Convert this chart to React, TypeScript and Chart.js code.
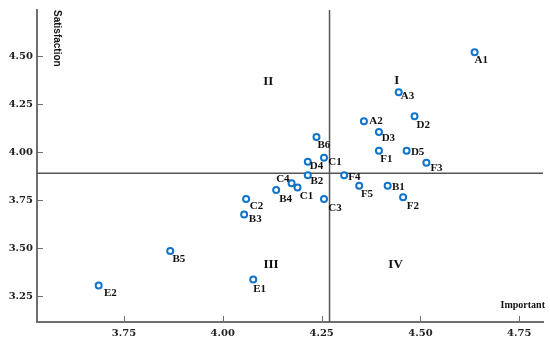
import React, { useEffect, useRef } from "react";
import { Chart, registerables } from "chart.js";

Chart.register(...registerables);

const pointNames = ["A1", "A3", "A2", "D2", "D3", "F1", "D5", "F3", "F4", "F5", "B1", "F2", "B6", "C1", "D4", "B2", "C4", "C1", "B4", "C2", "C3", "B3", "B5", "E2", "E1"];
const importance = [4.637, 4.445, 4.357, 4.485, 4.395, 4.395, 4.465, 4.515, 4.307, 4.345, 4.417, 4.456, 4.237, 4.256, 4.215, 4.215, 4.174, 4.189, 4.135, 4.059, 4.256, 4.054, 3.867, 3.686, 4.077];
const satisfaction = [4.52, 4.311, 4.161, 4.187, 4.105, 4.007, 4.007, 3.945, 3.879, 3.824, 3.824, 3.765, 4.078, 3.97, 3.95, 3.879, 3.838, 3.815, 3.803, 3.755, 3.755, 3.675, 3.485, 3.305, 3.336];

const xTicks = [3.75, 4.0, 4.25, 4.5, 4.75];
const yTicks = [3.25, 3.5, 3.75, 4.0, 4.25, 4.5];
const xRange = [3.53, 4.81];
const yRange = [3.115, 4.74];
const meanImportance = 4.27;
const meanSatisfaction = 3.89;

const quadrantNames = ["I", "II", "III", "IV"];
const quadrantX = [4.44, 4.115, 4.122, 4.437];
const quadrantY = [4.373, 4.368, 3.414, 3.414];

const xTitle = "Important";
const yTitle = "Satisfaction";

// label placement (pixel offsets of the label from its point), styling only
const labelDx = [0, 2, 5.3, 2, 2.7, 1.3, 4.3, 4, 4, 1.7, 4.3, 3.7, 1, 4.3, 2, 2.7, -2, 2.3, 3, 3.7, 4.3, 4.7, 2.3, 5.3, 0];
const labelDy = [7.5, 4.2, 0.3, 8.5, 6.2, 8.8, 1.8, 5.2, 1.7, 8.7, 1, 8.5, 8.3, 4.3, 4.5, 5.8, -3.7, 8.5, 8.8, 6.8, 8.7, 5, 8.3, 7.7, 9.7];

const POINT_COLOR = "#1273cc";
const AXIS_COLOR = "#6f6f6f";
const TICK_FONT = { family: "'DejaVu Serif'", size: 10, weight: "bold" as const };

const decorPlugin = {
  id: "decor",
  afterDatasetsDraw(chart: any) {
    const ctx = chart.ctx;
    const xs = chart.scales.x;
    const ys = chart.scales.y;
    const area = chart.chartArea;
    ctx.save();
    // inward tick marks
    ctx.strokeStyle = AXIS_COLOR;
    ctx.lineWidth = 1;
    xTicks.forEach((v) => {
      const px = Math.round(xs.getPixelForValue(v)) + 0.5;
      ctx.beginPath();
      ctx.moveTo(px, area.bottom);
      ctx.lineTo(px, area.bottom - 6);
      ctx.stroke();
    });
    yTicks.forEach((v) => {
      const py = Math.round(ys.getPixelForValue(v)) + 0.5;
      ctx.beginPath();
      ctx.moveTo(area.left, py);
      ctx.lineTo(area.left + 6, py);
      ctx.stroke();
    });
    // point labels
    const meta = chart.getDatasetMeta(0);
    ctx.fillStyle = "#111";
    ctx.font = "bold 11px 'Liberation Serif'";
    ctx.textBaseline = "middle";
    meta.data.forEach((el: any, i: number) => {
      const dx = labelDx[i];
      ctx.textAlign = dx < 0 ? "right" : "left";
      ctx.fillText(pointNames[i], el.x + dx, el.y + labelDy[i]);
    });
    // quadrant labels
    ctx.font = "bold 13px 'Liberation Serif'";
    ctx.textAlign = "center";
    ctx.textBaseline = "middle";
    quadrantNames.forEach((q, i) => {
      ctx.fillText(q, xs.getPixelForValue(quadrantX[i]), ys.getPixelForValue(quadrantY[i]));
    });
    // axis titles
    ctx.font = "bold 10px 'Liberation Serif'";
    ctx.textAlign = "right";
    ctx.textBaseline = "alphabetic";
    ctx.fillText(xTitle, area.right + 2, area.bottom - 14);
    ctx.save();
    ctx.translate(area.left + 20, area.top);
    ctx.rotate(Math.PI / 2);
    ctx.font = "bold 10px 'Liberation Sans'";
    ctx.textAlign = "left";
    ctx.textBaseline = "middle";
    ctx.fillText(yTitle, 0, 0);
    ctx.restore();
    ctx.restore();
  },
};

export default function App() {
  const ref = useRef<HTMLCanvasElement>(null);
  useEffect(() => {
    document.body.style.margin = "0";
    const points = importance.map((x, i) => ({ x, y: satisfaction[i] }));
    const chart = new Chart(ref.current as HTMLCanvasElement, {
      type: "scatter",
      data: {
        datasets: [
          {
            type: "scatter",
            data: points,
            pointRadius: 3,
            pointBorderWidth: 2,
            pointBackgroundColor: "#ffffff",
            pointBorderColor: POINT_COLOR,
            order: 0,
          } as any,
          {
            type: "line",
            data: [
              { x: xRange[0], y: meanSatisfaction },
              { x: xRange[1], y: meanSatisfaction },
            ],
            borderColor: "#555555",
            borderWidth: 1.5,
            pointRadius: 0,
            order: 1,
          } as any,
          {
            type: "line",
            data: [
              { x: meanImportance, y: yRange[0] },
              { x: meanImportance, y: yRange[1] },
            ],
            borderColor: "#555555",
            borderWidth: 1.5,
            pointRadius: 0,
            order: 1,
          } as any,
        ],
      },
      options: {
        responsive: false,
        animation: false,
        layout: { padding: { top: 8, right: 7, left: 0, bottom: 0 } },
        plugins: { legend: { display: false }, tooltip: { enabled: false } },
        scales: {
          x: {
            type: "linear",
            min: xRange[0],
            max: xRange[1],
            afterBuildTicks: (s: any) => {
              s.ticks = xTicks.map((v) => ({ value: v }));
            },
            afterFit: (s: any) => {
              s.height = 19;
            },
            grid: { display: false, drawTicks: false },
            border: { display: true, color: AXIS_COLOR, width: 2 },
            ticks: {
              color: "#222",
              font: TICK_FONT,
              padding: 5,
              maxRotation: 0,
              callback: (v: any) => Number(v).toFixed(2),
            },
          },
          y: {
            type: "linear",
            min: yRange[0],
            max: yRange[1],
            afterBuildTicks: (s: any) => {
              s.ticks = yTicks.map((v) => ({ value: v }));
            },
            afterFit: (s: any) => {
              s.width = 37;
            },
            grid: { display: false, drawTicks: false },
            border: { display: true, color: AXIS_COLOR, width: 2 },
            ticks: {
              color: "#222",
              font: TICK_FONT,
              padding: 4,
              callback: (v: any) => Number(v).toFixed(2),
            },
          },
        },
      },
      plugins: [decorPlugin],
    } as any);
    return () => chart.destroy();
  }, []);
  return <canvas ref={ref} width={550} height={341} style={{ display: "block" }} />;
}
